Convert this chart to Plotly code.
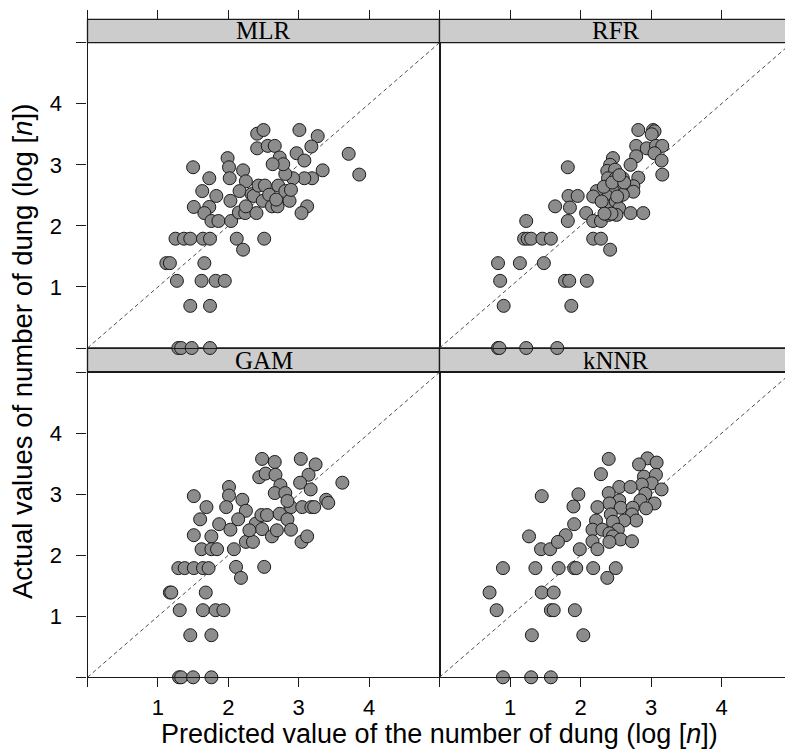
import plotly.graph_objects as go

# page body has an 8px margin; the figure is sized so it fills the 793x749 window exactly
OFF = 8
W, H = 793 - OFF, 749 - OFF

models = ["MLR", "RFR", "GAM", "kNNR"]

mlr_pred = [2.41, 2.50, 3.01, 3.27, 3.18, 2.41, 2.56, 2.66, 2.97, 3.08,
            3.71, 3.86, 3.34, 3.19, 3.08, 2.92, 2.81, 2.73, 2.78, 2.63,
            1.99, 2.01, 2.02, 1.50, 1.73, 2.21, 2.25, 1.63, 1.83, 2.16,
            2.03, 1.51, 1.73, 1.66, 1.76, 1.86, 2.04, 2.15, 2.24, 2.40,
            2.25, 2.33, 2.36, 2.43, 2.52, 2.49, 2.58, 2.62, 2.70, 2.68,
            2.71, 2.81, 2.87, 2.89, 3.12, 3.04,
            1.25, 1.37, 1.46, 1.64, 1.74, 2.12, 2.51, 2.21,
            1.12, 1.17, 1.66, 1.27, 1.62, 1.82, 1.95, 1.46, 1.74,
            1.29, 1.33, 1.48, 1.74]
mlr_actual = [3.51, 3.57, 3.57, 3.47, 3.30, 3.27, 3.31, 3.31, 3.19, 3.07,
              3.18, 2.84, 2.91, 2.78, 2.78, 2.78, 2.85, 3.12, 3.01, 3.01,
              3.11, 2.96, 2.78, 2.96, 2.78, 2.91, 2.73, 2.57, 2.49, 2.57,
              2.41, 2.31, 2.31, 2.21, 2.08, 2.08, 2.08, 2.22, 2.21, 2.21,
              2.32, 2.52, 2.49, 2.66, 2.66, 2.41, 2.51, 2.32, 2.32, 2.43,
              2.66, 2.57, 2.41, 2.59, 2.32, 2.21,
              1.79, 1.79, 1.79, 1.79, 1.79, 1.79, 1.79, 1.61,
              1.39, 1.39, 1.39, 1.10, 1.10, 1.10, 1.10, 0.69, 0.69,
              0.0, 0.0, 0.0, 0.0]

rfr_pred = [2.82, 3.03, 3.05, 3.01, 2.79, 2.94, 3.07, 3.16, 3.05, 3.15,
            3.16, 2.79, 2.71, 2.82, 2.75, 2.75, 2.46, 2.42, 2.38, 2.49,
            2.39, 2.50, 2.60, 2.56, 2.46, 2.38, 2.38, 2.50, 2.55, 2.23,
            2.18, 1.82, 1.83, 1.96, 1.85, 1.82, 2.08, 2.18, 2.29, 2.40,
            2.51, 2.71, 2.89, 2.18, 2.29, 2.42, 2.60, 1.64, 1.23,
            2.33, 2.45, 2.52, 2.30, 2.44, 2.62, 2.34, 2.55,
            1.20, 1.25, 1.30, 1.46, 1.58, 0.83, 1.14, 1.48,
            0.86, 1.78, 1.84, 2.09, 0.91, 1.87, 0.83, 0.85, 1.23, 1.67]
rfr_actual = [3.57, 3.57, 3.55, 3.50, 3.31, 3.27, 3.31, 3.31, 3.19, 3.07,
              2.84, 3.14, 3.00, 2.79, 2.65, 2.56, 3.11, 3.00, 2.90, 2.92,
              2.78, 2.78, 2.78, 2.65, 2.57, 2.48, 2.32, 2.40, 2.29, 2.57,
              2.48, 2.96, 2.49, 2.49, 2.30, 2.08, 2.21, 2.08, 2.08, 2.18,
              2.18, 2.21, 2.21, 1.79, 1.79, 1.61, 2.51, 2.32, 2.08,
              2.64, 2.71, 2.48, 2.40, 2.20, 2.71, 2.20, 2.83,
              1.79, 1.79, 1.79, 1.79, 1.79, 1.39, 1.39, 1.39,
              1.10, 1.10, 1.10, 1.10, 0.69, 0.69, 0.0, 0.0, 0.0, 0.0]

gam_pred = [2.48, 2.66, 3.03, 3.24, 3.14, 2.44, 2.53, 2.67, 3.62, 3.02,
            3.17, 2.74, 2.66, 2.81, 2.89, 3.05, 3.18, 3.22, 3.39, 3.42,
            2.84, 2.01, 2.01, 1.97, 1.51, 1.69, 2.20, 2.25, 1.60, 1.87,
            2.14, 2.03, 1.51, 1.76, 1.62, 1.76, 1.84, 2.08, 2.25, 2.35,
            2.39, 2.47, 2.55, 2.48, 2.62, 2.69, 2.73, 2.84, 2.89, 3.04,
            3.12, 2.30, 2.11, 2.18, 2.51,
            1.29, 1.38, 1.51, 1.64, 1.72, 1.17, 1.19, 1.68,
            1.31, 1.64, 1.82, 1.93, 1.46, 1.76, 1.30, 1.33, 1.50, 1.76]
gam_actual = [3.58, 3.53, 3.58, 3.49, 3.32, 3.28, 3.34, 3.32, 3.19, 3.19,
              3.08, 3.15, 3.02, 3.02, 2.79, 2.79, 2.79, 2.79, 2.91, 2.86,
              2.89, 3.12, 2.98, 2.79, 2.97, 2.79, 2.91, 2.73, 2.59, 2.51,
              2.59, 2.42, 2.33, 2.31, 2.10, 2.10, 2.10, 2.10, 2.22, 2.22,
              2.52, 2.66, 2.66, 2.43, 2.31, 2.41, 2.68, 2.59, 2.42, 2.22,
              2.31, 2.41, 1.81, 1.63, 1.81,
              1.79, 1.79, 1.79, 1.79, 1.79, 1.39, 1.39, 1.39,
              1.10, 1.10, 1.10, 1.10, 0.69, 0.69, 0.0, 0.0, 0.0, 0.0]

knnr_pred = [2.40, 2.95, 3.08, 2.83, 2.29, 2.90, 3.07, 3.01, 2.87, 3.15,
             2.55, 2.71, 2.92, 2.40, 1.97, 1.90, 2.85, 3.05, 2.93, 2.55,
             2.41, 2.57, 2.24, 2.74, 2.73, 2.79, 2.43, 2.22, 2.62, 2.46,
             1.91, 1.79, 2.17, 2.31, 2.53, 2.41, 2.46, 2.57, 2.17, 2.41,
             2.73, 2.24, 1.99, 1.45, 1.27, 1.44, 1.57, 1.68, 2.38,
             0.90, 1.36, 1.69, 1.91, 1.94, 2.18, 2.50,
             0.71, 1.45, 1.62, 0.81, 1.58, 1.62, 1.92,
             1.31, 2.04, 0.90, 1.30, 1.58]
knnr_actual = [3.58, 3.59, 3.52, 3.49, 3.33, 3.29, 3.32, 3.18, 3.16, 3.08,
               3.12, 3.12, 3.01, 3.02, 3.00, 2.80, 2.90, 2.85, 2.77, 2.90,
               2.85, 2.78, 2.79, 2.78, 2.67, 2.57, 2.67, 2.57, 2.57, 2.55,
               2.51, 2.33, 2.42, 2.42, 2.42, 2.36, 2.31, 2.26, 2.23, 2.22,
               2.23, 2.10, 2.10, 2.97, 2.31, 2.10, 2.10, 2.22, 1.63,
               1.79, 1.79, 1.79, 1.79, 1.79, 1.79, 1.79,
               1.39, 1.39, 1.39, 1.10, 1.10, 1.10, 1.10,
               0.69, 0.69, 0.0, 0.0, 0.0]

axis_range = [0, 5]
tick_vals = [0, 1, 2, 3, 4, 5]
tick_text = ["", "1", "2", "3", "4", ""]
x_title = "Predicted value of the number of dung (log [<i>n</i>])"
y_title = "Actual values of number of dung (log [<i>n</i>])"

# ---- geometry (window pixels) ----
cols = [(87.5, 439.5), (439.5, 792.0)]
rows = [(19.3, 42.7, 348.0), (348.0, 372.3, 677.3)]  # strip top, panel top, panel bottom


def fx(p):
    return (p - OFF) / W


def fy(p):
    return 1 - (p - OFF) / H


SANS = "Liberation Sans, Arial, sans-serif"
SERIF = "Liberation Serif, Times New Roman, serif"
LINE = "#1a1a1a"

panels = [
    (mlr_pred, mlr_actual, 0, 0),
    (rfr_pred, rfr_actual, 1, 0),
    (gam_pred, gam_actual, 0, 1),
    (knnr_pred, knnr_actual, 1, 1),
]

fig = go.Figure()
layout = dict(
    width=W, height=H,
    margin=dict(l=0, r=0, t=0, b=0),
    paper_bgcolor="white",
    plot_bgcolor="rgba(0,0,0,0)",
    showlegend=False,
    shapes=[], annotations=[],
)

for i, (px, py, c, r) in enumerate(panels):
    idx = i + 1
    sx = "" if idx == 1 else str(idx)
    c0, c1 = cols[c]
    s_top, p_top, p_bot = rows[r]

    fig.add_trace(go.Scatter(x=axis_range, y=axis_range, mode="lines",
                             line=dict(color="#4d4d4d", width=1, dash="4px,3px"),
                             xaxis="x" + sx, yaxis="y" + sx, hoverinfo="skip"))
    fig.add_trace(go.Scatter(x=px, y=py, mode="markers", cliponaxis=False,
                             marker=dict(size=13, color="#8c8c8c",
                                         line=dict(color=LINE, width=1)),
                             xaxis="x" + sx, yaxis="y" + sx))

    bottom = (r == 1)
    left = (c == 0)
    layout["xaxis" + sx] = dict(
        domain=[fx(c0), fx(c1)], range=axis_range, anchor="y" + sx,
        showline=True, mirror=True, linecolor=LINE, linewidth=1.3,
        showgrid=False, zeroline=False,
        tickvals=tick_vals, ticktext=tick_text,
        ticks="outside" if bottom else "", ticklen=9, tickwidth=1.2, tickcolor=LINE,
        showticklabels=bottom, ticklabelstandoff=1,
        tickfont=dict(family=SANS, size=22, color="black"),
    )
    layout["yaxis" + sx] = dict(
        domain=[fy(p_bot), fy(p_top)], range=axis_range, anchor="x" + sx,
        showline=True, mirror=True, linecolor=LINE, linewidth=1.3,
        showgrid=False, zeroline=False,
        tickvals=tick_vals, ticktext=tick_text,
        ticks="outside" if left else "", ticklen=10, tickwidth=1.2, tickcolor=LINE,
        showticklabels=left, ticklabelstandoff=10,
        tickfont=dict(family=SANS, size=22, color="black"),
    )

    layout["shapes"].append(dict(type="rect", xref="paper", yref="paper",
                                 x0=fx(c0), x1=fx(c1), y0=fy(p_top), y1=fy(s_top),
                                 fillcolor="#cccccc", line=dict(color=LINE, width=1.3),
                                 layer="below"))
    layout["annotations"].append(dict(text=models[i], xref="paper", yref="paper",
                                      x=fx((c0 + c1) / 2), y=fy((s_top + p_top) / 2),
                                      showarrow=False, xanchor="center", yanchor="middle",
                                      font=dict(family=SERIF, size=25, color="black")))

    if r == 0:
        ax_id = str(5 + c)
        layout["xaxis" + ax_id] = dict(
            overlaying="x" + sx, anchor="free", position=fy(s_top), side="top",
            domain=[fx(c0), fx(c1)], range=axis_range,
            showline=False, showgrid=False, zeroline=False,
            tickvals=tick_vals, ticks="outside", ticklen=9, tickwidth=1.2,
            tickcolor=LINE, showticklabels=False,
        )
        fig.add_trace(go.Scatter(x=axis_range, y=axis_range, mode="lines",
                                 line=dict(width=0), opacity=0, hoverinfo="skip",
                                 xaxis="x" + ax_id, yaxis="y" + sx))

layout["annotations"].append(dict(text=x_title, xref="paper", yref="paper",
                                  x=fx((cols[0][0] + cols[1][1]) / 2), y=fy(734),
                                  showarrow=False, xanchor="center", yanchor="middle",
                                  font=dict(family=SANS, size=27, color="black")))
layout["annotations"].append(dict(text=y_title, xref="paper", yref="paper",
                                  x=fx(23), y=fy(352), textangle=-90,
                                  showarrow=False, xanchor="center", yanchor="middle",
                                  font=dict(family=SANS, size=27.5, color="black")))

fig.update_layout(**layout)
fig.write_html("out.html")
